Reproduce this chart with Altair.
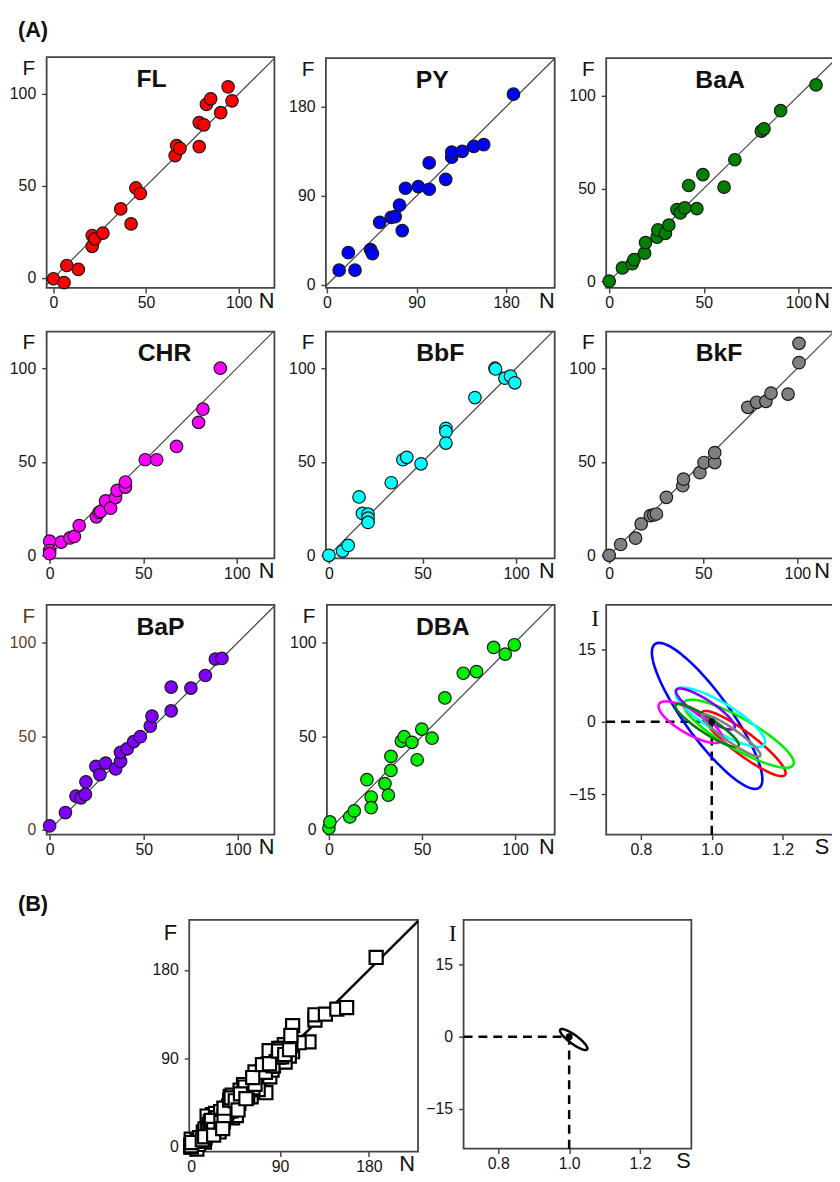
import altair as alt
import numpy as np
import pandas as pd

# ---------------- data: N (x) and F (y) per compound ----------------
fl_n = [0, 5.7, 7.2, 13.4, 20.9, 20.9, 22.4, 26.7, 36.3, 41.9, 44.5, 46.9, 65.7, 66.5, 68.3, 78.7, 78.7, 81.2, 82.6, 84.9, 90.3, 94.3, 96.4]
fl_f = [-0.4, -2.5, 6.8, 4.7, 17.2, 23.1, 21.3, 24.4, 37.5, 29.4, 48.9, 45.9, 66.5, 71.9, 70.4, 71.3, 84.4, 83.2, 94.3, 97.3, 89.8, 103.8, 96.2]
py_n = [12.3, 21.5, 28.2, 43.8, 45.7, 53, 64.6, 68.6, 72.9, 75.6, 78.9, 91.8, 102.7, 102.7, 119.3, 125.3, 125.3, 135.9, 147.5, 157.4, 187.3]
py_f = [15, 32.7, 15, 35.7, 31.7, 63.3, 68.3, 69, 80.7, 55, 97.7, 99.3, 123.3, 96.7, 106.7, 129, 134.3, 135, 140, 141.7, 192.7]
baa_n = [0, 7, 12.2, 13.1, 18.7, 19.2, 25.3, 25.7, 29.7, 31.5, 35.8, 37.6, 39.9, 42, 46.3, 49.5, 60.7, 66.4, 80.4, 81.8, 90.6, 109.3]
baa_f = [0, 7.1, 9.4, 11.6, 15.1, 20.8, 23.7, 27.6, 25.8, 30.2, 38.6, 36.8, 39.5, 51.6, 39.1, 57.5, 50.7, 65.5, 81, 82.2, 92, 105.9]
chr_n = [0, 0, 0, 6.2, 10.9, 13.2, 15.8, 25, 26.4, 27.3, 29.9, 32.6, 35.2, 36.1, 40.5, 40.5, 51.1, 57.2, 67.8, 79.6, 81.9, 91.2]
chr_f = [7.6, 2.6, 0.9, 7.1, 9.3, 10.1, 15.9, 20.6, 22.9, 23.5, 29.1, 25.2, 30.9, 34.7, 36.5, 39.2, 51.1, 51.1, 58.2, 71.1, 78.1, 100]
bbf_n = [0, 7.3, 10.3, 16.1, 17.9, 20.9, 20.9, 20.9, 33.3, 39.5, 41.6, 49.2, 62.5, 62.5, 62.5, 78, 88.7, 89, 94, 97, 99.3]
bbf_f = [0, 2.3, 5.3, 31.2, 22.4, 22, 19.9, 17.6, 38.8, 51.1, 52.4, 48.9, 67.9, 66.1, 60, 84.3, 100, 99.6, 94.7, 95.8, 92.2]
bkf_n = [0, 6.1, 14, 17, 21.9, 23.7, 25.1, 30.4, 39.1, 39.5, 48.2, 50.4, 56.1, 56.1, 73.7, 78.4, 83.3, 86, 95.1, 100.9, 100.9]
bkf_f = [0, 5.8, 9.2, 16.8, 21.2, 21.6, 22.1, 31, 37.2, 40.7, 44.2, 49.6, 49.6, 54.9, 79.1, 81.8, 82.3, 86.7, 86.2, 103, 113.3]
bap_n = [0, 8.4, 14, 16.7, 19, 19.3, 24.6, 26.7, 29.8, 35.1, 37.7, 37.7, 41.2, 44.7, 48.2, 53.5, 54.4, 64.6, 64.6, 75.1, 82.8, 88.1, 91.6]
bap_f = [2.1, 9.2, 18, 17.1, 18.9, 25.6, 33.9, 29.5, 35.6, 32.5, 36.5, 41.4, 43.2, 47.1, 49.7, 55.4, 60.7, 63.5, 76.2, 75.7, 82.4, 91.2, 91.5]
dba_n = [0, 0.5, 11.2, 13.6, 20.4, 22.7, 22.7, 30.1, 31.9, 33.3, 33.3, 38.9, 40.4, 44.6, 47.4, 49.9, 55.4, 62.3, 72.2, 79.3, 88.5, 94.7, 99.6]
dba_f = [0.9, 4.2, 6.9, 10.1, 26.8, 17.5, 11.8, 24.7, 18.5, 31.7, 39.2, 47.4, 49.7, 46.7, 37.4, 53.8, 48.9, 70.4, 83.6, 84.5, 97.4, 93.8, 98.8]

compounds = ["FL", "PY", "BaA", "CHR", "BbF", "BkF", "BaP", "DBA"]
colors = ["#ff0000", "#0000ff", "#008000", "#ff00ff", "#00ffff", "#808080", "#8000ff", "#00ee00"]
series_n = [fl_n, py_n, baa_n, chr_n, bbf_n, bkf_n, bap_n, dba_n]
series_f = [fl_f, py_f, baa_f, chr_f, bbf_f, bkf_f, bap_f, dba_f]

# joint confidence ellipses for slope S and intercept I:
# centre (S, I), semi-major vector (dS, dI), semi-minor vector (dS, dI)
ell_names = ["PY", "FL", "DBA", "BbF", "BaP", "CHR", "BaA", "BkF"]
ell_colors = ["#0000ff", "#ff0000", "#00ee00", "#00ffff", "#8000ff", "#ff00ff", "#008000", "#808080"]
ell_cs = [0.987, 1.09, 1.076, 1.024, 0.982, 0.94, 0.987, 1.055]
ell_ci = [1.23, -4.5, -2.46, 0.96, 2.67, -0.07, -0.76, -2.8]
ell_us = [0.147, 0.117, 0.154, 0.125, 0.082, 0.0886, 0.0886, 0.082]
ell_ui = [-14.9, -6.5, -6.5, -5.6, -3.97, -3.76, -4.25, -4.25]
ell_vs = [0.052, 0.019, 0.022, 0.021, 0.0135, 0.017, 0.012, 0.0105]
ell_vi = [2.7, 1.85, 2.75, 2.5, 1.5, 2.1, 1.35, 1.1]
pooled_ell = [1.013, -0.6, 0.038, -2.05, 0.0075, 0.72]

# ---------------- layout (page pixels) ----------------
W, H = 832, 1174
FONT = "Liberation Sans"


def ellipse_df(names, cs, ci, us, ui, vs, vi):
    t = np.linspace(0, 2 * np.pi, 121)
    rows = []
    for k, nm in enumerate(names):
        for j, tt in enumerate(t):
            rows.append({"name": nm, "t": j,
                         "S": cs[k] + us[k] * np.cos(tt) + vs[k] * np.sin(tt),
                         "I": ci[k] + ui[k] * np.cos(tt) + vi[k] * np.sin(tt)})
    return pd.DataFrame(rows)


one = pd.DataFrame({"k": [0]})


def scales(box, xd, yd):
    L, T, R, B = [v - 8 for v in box]
    sx = alt.Scale(domain=list(xd), range=[L, R], nice=False, zero=False)
    sy = alt.Scale(domain=list(yd), range=[B, T], nice=False, zero=False)
    return L, T, R, B, sx, sy


def axes(L, B, xt, yt, xfmt, yfmt, ycol="#151515"):
    common = dict(domain=False, grid=False, title=None, tickSize=5, tickColor="#444",
                  tickWidth=1.5, labelFont=FONT, labelFontSize=16,
                  labelFlush=False, labelOverlap=False)
    ax = alt.Axis(values=xt, orient="bottom", offset=B - H, labelPadding=2,
                  format=xfmt, labelColor="#151515", **common)
    ay = alt.Axis(values=yt, orient="left", offset=-L, labelPadding=6,
                  format=yfmt, labelColor=ycol, **common)
    return ax, ay


def frame_layer(xd, yd, sx, sy, ax, ay, width=1.8):
    return alt.Chart(one).mark_rect(fill="transparent", stroke="#444", strokeWidth=width).encode(
        x=alt.X(datum=xd[0], type="quantitative", scale=sx, axis=ax),
        x2=alt.X2(datum=xd[1]),
        y=alt.Y(datum=yd[0], type="quantitative", scale=sy, axis=ay),
        y2=alt.Y2(datum=yd[1]))


def text_layer(txt, xv, yv, sx, sy, dx, dy, size, bold=False, font=FONT, align="center", color="#111"):
    mk = dict(text=txt, font=font, fontSize=size, dx=dx, dy=dy, align=align,
              baseline="middle", color=color)
    if bold:
        mk["fontWeight"] = "bold"
    return alt.Chart(one).mark_text(**mk).encode(
        x=alt.X(datum=xv, type="quantitative", scale=sx, axis=None),
        y=alt.Y(datum=yv, type="quantitative", scale=sy, axis=None))


def diag_layer(xd, yd, sx, sy, color="#444", width=1.2):
    a = max(xd[0], yd[0])
    b = min(xd[1], yd[1])
    return alt.Chart(one).mark_rule(color=color, strokeWidth=width).encode(
        x=alt.X(datum=a, type="quantitative", scale=sx, axis=None),
        y=alt.Y(datum=a, type="quantitative", scale=sy, axis=None),
        x2=alt.X2(datum=b), y2=alt.Y2(datum=b))


def scatter_panel(name, n, f, color, box, xd, yd, ticks, tdx=0, fdy=12, labcol="#151515",
                  fcol="#111", ndx=-8):
    L, T, R, B, sx, sy = scales(box, xd, yd)
    ax, ay = axes(L, B, ticks, ticks, "d", "d", labcol)
    df = pd.DataFrame({"N": n, "F": f})
    pts = alt.Chart(df).mark_point(shape="circle", filled=True, fill=color, stroke="#1a1a1a",
                                   strokeWidth=1.2, size=160, opacity=1).encode(
        x=alt.X("N:Q", scale=sx, axis=None), y=alt.Y("F:Q", scale=sy, axis=None))
    layers = [frame_layer(xd, yd, sx, sy, ax, ay), diag_layer(xd, yd, sx, sy), pts,
              text_layer(name, (xd[0] + xd[1]) / 2, yd[1], sx, sy, tdx, 22, 25, bold=True),
              text_layer("F", xd[0], yd[1], sx, sy, -18, fdy, 21, color=fcol),
              text_layer("N", xd[1], yd[0], sx, sy, ndx, 13, 22)]
    return layers


def ellipse_panel(box, xd, yd, edf, names, cols, single=False, sdx=-8):
    L, T, R, B, sx, sy = scales(box, xd, yd)
    ax, ay = axes(L, B, [0.8, 1.0, 1.2], [-15, 0, 15], ".1f", "d")
    dash = dict(color="black", strokeWidth=2.5, strokeDash=[9, 6])
    hline = alt.Chart(one).mark_rule(**dash).encode(
        x=alt.X(datum=xd[0], type="quantitative", scale=sx, axis=None), x2=alt.X2(datum=1.0),
        y=alt.Y(datum=0, type="quantitative", scale=sy, axis=None))
    vline = alt.Chart(one).mark_rule(**dash).encode(
        x=alt.X(datum=1.0, type="quantitative", scale=sx, axis=None),
        y=alt.Y(datum=yd[0], type="quantitative", scale=sy, axis=None), y2=alt.Y2(datum=0))
    if single:
        ell = alt.Chart(edf).mark_line(color="black", strokeWidth=2.5).encode(
            x=alt.X("S:Q", scale=sx, axis=None), y=alt.Y("I:Q", scale=sy, axis=None),
            detail="name:N", order="t:Q")
    else:
        ell = alt.Chart(edf).mark_line(strokeWidth=2.6).encode(
            x=alt.X("S:Q", scale=sx, axis=None), y=alt.Y("I:Q", scale=sy, axis=None),
            color=alt.Color("name:N", scale=alt.Scale(domain=names, range=cols), legend=None),
            order="t:Q")
    dot = alt.Chart(one).mark_point(shape="circle", filled=True, color="black", size=50, opacity=1).encode(
        x=alt.X(datum=1.0, type="quantitative", scale=sx, axis=None),
        y=alt.Y(datum=0, type="quantitative", scale=sy, axis=None))
    return [frame_layer(xd, yd, sx, sy, ax, ay), hline, vline, ell, dot,
            text_layer("I", xd[0], yd[1], sx, sy, -11, 14, 24, font="Liberation Serif"),
            text_layer("S", xd[1], yd[0], sx, sy, sdx, 13, 22)]


panel_boxes = [(47, 52, 277, 285), (329, 53, 560, 285), (612, 53, 842, 285),
               (47, 329, 277, 558), (329, 329, 560, 558), (612, 329, 842, 558),
               (47, 605, 277, 837), (330, 605, 560, 837)]
panel_xd = [(-3.7, 119.3), (-1, 228.7), (-1.6, 118.8), (-1.6, 120.1), (-1.6, 120.6),
            (-1.6, 119.5), (-1.6, 119.5), (-1.1, 121.3)]
panel_yd = [(-5.4, 119.9), (-3, 229), (-3.7, 120.3), (-1.6, 119.6), (-1.6, 119.6),
            (-1.6, 119.6), (-2.6, 120.1), (-2.6, 120.1)]
panel_ticks = [[0, 50, 100], [0, 90, 180]] + [[0, 50, 100]] * 6
title_dx = [-9, -8, 0, 4, 0, -1, 0, 2]
n_dx = [-8, -8, -12, -8, -8, -12, -8, -8]

layers = []
for i, nm in enumerate(compounds):
    labcol = "#5c3d1e" if nm == "BaP" else "#151515"
    layers += scatter_panel(nm, series_n[i], series_f[i], colors[i], panel_boxes[i],
                            panel_xd[i], panel_yd[i], panel_ticks[i], title_dx[i],
                            labcol=labcol, fcol=("#5c3d1e" if nm == "BaP" else "#111"),
                            ndx=n_dx[i])

# (A) label attached to first panel
L0, T0, R0, B0, sx0, sy0 = scales(panel_boxes[0], panel_xd[0], panel_yd[0])
layers.append(text_layer("(A)", panel_xd[0][0], panel_yd[0][1], sx0, sy0, -29, -27, 22,
                         bold=True, align="left"))

# ellipse panel A
edfA = ellipse_df(ell_names, ell_cs, ell_ci, ell_us, ell_ui, ell_vs, ell_vi)
layers += ellipse_panel((612, 605, 842, 837), (0.702, 1.345), (-23.4, 24.25), edfA,
                        ell_names, ell_colors, sdx=-12)

# pooled panel B (all compounds together)
all_n = sum(series_n, [])
all_f = sum(series_f, [])
boxB = (191, 923, 422, 1157)
xdB, ydB = (-2, 229.7), (-5, 231)
LB, TB, RB, BB, sxB, syB = scales(boxB, xdB, ydB)
axB, ayB = axes(LB, BB, [0, 90, 180], [0, 90, 180], "d", "d")
sq = alt.Chart(pd.DataFrame({"N": all_n, "F": all_f})).mark_square(
    fill="white", stroke="black", strokeWidth=2.2, size=175, opacity=1).encode(
    x=alt.X("N:Q", scale=sxB, axis=None), y=alt.Y("F:Q", scale=syB, axis=None))
layers += [frame_layer(xdB, ydB, sxB, syB, axB, ayB),
           diag_layer(xdB, ydB, sxB, syB, color="black", width=2.5), sq,
           text_layer("F", xdB[0], ydB[1], sxB, syB, -19, 13, 22),
           text_layer("N", xdB[1], ydB[0], sxB, syB, -11, 13, 22),
           text_layer("(B)", xdB[0], ydB[1], sxB, syB, -173, -16, 22, bold=True, align="left")]

edfB = ellipse_df(["all"], [pooled_ell[0]], [pooled_ell[1]], [pooled_ell[2]],
                  [pooled_ell[3]], [pooled_ell[4]], [pooled_ell[5]])
layers += ellipse_panel((468, 923, 698, 1154), (0.702, 1.345), (-23.2, 24.2), edfB,
                        ["all"], ["black"], single=True)

chart = alt.layer(*layers).resolve_scale(x="independent", y="independent").properties(
    width=W, height=H, autosize=alt.AutoSizeParams(type="none"), padding=0
).configure_view(stroke="transparent")

chart.save("out.html", embed_options={"renderer": "svg", "actions": False})
